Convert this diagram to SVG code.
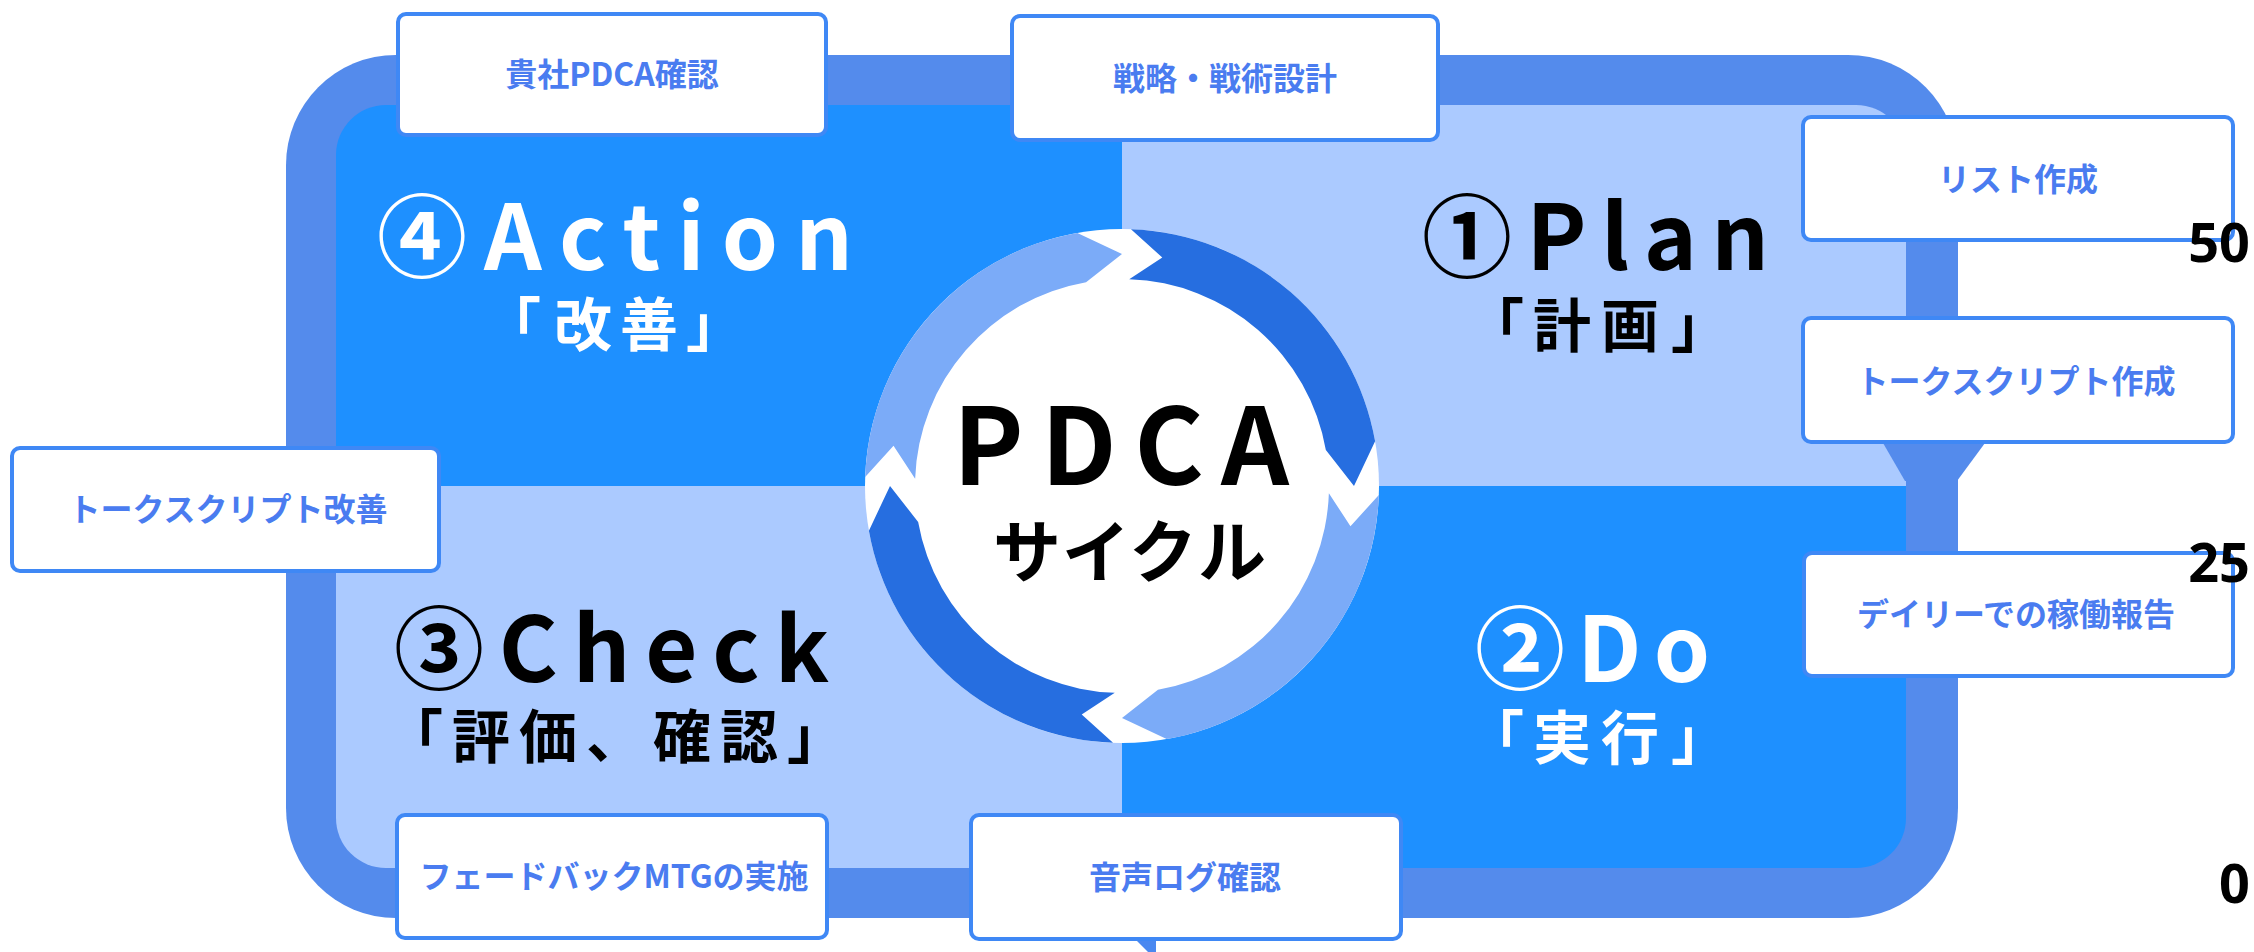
<svg xmlns="http://www.w3.org/2000/svg" width="2254" height="952" viewBox="0 0 2254 952">
<style>
.title{font-family:"Noto Sans CJK JP","Noto Sans",sans-serif;font-weight:700;font-size:90px}
.sub{font-family:"Noto Sans CJK JP",sans-serif;font-weight:700;font-size:58px;text-anchor:middle}
.box{fill:#ffffff;stroke:#3f88f5;stroke-width:4}
.btxt{font-family:"Noto Sans CJK JP",sans-serif;font-weight:700;font-size:32px;fill:#4a7cf0;text-anchor:middle}
.num{font-family:"Noto Sans","Liberation Sans",sans-serif;font-weight:700;font-size:54px;fill:#000;text-anchor:end}
.w{fill:#ffffff}
.k{fill:#000000}
</style>
<defs>
<clipPath id="inner"><rect x="336" y="105" width="1570" height="763" rx="50"/></clipPath>
<path id="seg" d="M8.97,-256.84 A257,257 0 0 1 253.1,-44.63 L232,0 L203.85,-35.95 A207,207 0 0 0 7.22,-206.87 L40.29,-228.47 Z"/>
</defs>
<rect width="2254" height="952" fill="#ffffff"/>
<g id="frame">
<rect x="286" y="55" width="1672" height="863" rx="110" fill="#548bec"/>
<g clip-path="url(#inner)">
<rect x="336" y="105" width="786" height="381" fill="#1e90ff"/>
<rect x="1122" y="105" width="784" height="381" fill="#abcaff"/>
<rect x="336" y="486" width="786" height="382" fill="#abcaff"/>
<rect x="1122" y="486" width="784" height="382" fill="#1e90ff"/>
</g>
</g>
<g id="connectors">
<polygon points="1883,443 1985,443 1957,481 1905,481" fill="#548bec"/>
<polygon points="1135,939 1156,939 1156,952 1148,952" fill="#4a88f0"/>
</g>
<g id="cycle">
<circle cx="1122" cy="486" r="257" fill="#ffffff"/>
<g transform="translate(1122,486)">
<use href="#seg" fill="#266ee0"/>
<use href="#seg" fill="#7babf8" transform="rotate(90)"/>
<use href="#seg" fill="#266ee0" transform="rotate(180)"/>
<use href="#seg" fill="#7babf8" transform="rotate(270)"/>
</g>
<text class="title k" style="font-size:106px" x="953" y="485" textLength="336" lengthAdjust="spacing">PDCA</text>
<text class="sub k" style="font-size:68px" x="1027 1096 1163 1232" y="577">サイクル</text>
</g>
<g id="action">
<text class="title w" x="377" y="270" textLength="476" lengthAdjust="spacing">④Action</text>
<text class="sub w" x="512 583 649 715" y="346">「改善」</text>
</g>
<g id="plan">
<text class="title k" x="1422" y="270" textLength="347" lengthAdjust="spacing">①Plan</text>
<text class="sub k" x="1495 1562 1630 1700" y="347">「計画」</text>
</g>
<g id="check">
<text class="title k" x="394" y="682" textLength="435" lengthAdjust="spacing">③Check</text>
<text class="sub k" x="414 481 548 615 682 749 816" y="758">「評価、確認」</text>
</g>
<g id="do">
<text class="title w" x="1475" y="682" textLength="235" lengthAdjust="spacing">②Do</text>
<text class="sub w" x="1495 1562 1630 1700" y="759">「実行」</text>
</g>
<g id="box-kisha">
<rect class="box" x="398" y="14" width="428" height="121" rx="8"/>
<text class="btxt" x="612" y="86">貴社PDCA確認</text>
</g>
<g id="box-senryaku">
<rect class="box" x="1012" y="16" width="426" height="124" rx="8"/>
<text class="btxt" x="1225" y="90">戦略・戦術設計</text>
</g>
<g id="box-list">
<rect class="box" x="1803" y="117" width="430" height="123" rx="8"/>
<text class="btxt" x="2018" y="191">リスト作成</text>
</g>
<g id="box-talk">
<rect class="box" x="1803" y="318" width="430" height="124" rx="8"/>
<text class="btxt" x="2016" y="393">トークスクリプト作成</text>
</g>
<g id="box-kaizen">
<rect class="box" x="12" y="448" width="427" height="123" rx="8"/>
<text class="btxt" x="228" y="521">トークスクリプト改善</text>
</g>
<g id="box-daily">
<rect class="box" x="1804" y="553" width="429" height="123" rx="8"/>
<text class="btxt" x="2016" y="626">デイリーでの稼働報告</text>
</g>
<g id="box-feedback">
<rect class="box" x="397" y="815" width="430" height="123" rx="8"/>
<text class="btxt" x="614" y="888">フェードバックMTGの実施</text>
</g>
<g id="box-onsei">
<rect class="box" x="971" y="815" width="430" height="124" rx="8"/>
<text class="btxt" x="1185" y="889">音声ログ確認</text>
</g>
<g id="axis">
<text class="num" x="2250" y="262">50</text>
<text class="num" x="2250" y="582">25</text>
<text class="num" x="2250" y="903">0</text>
</g>
</svg>
